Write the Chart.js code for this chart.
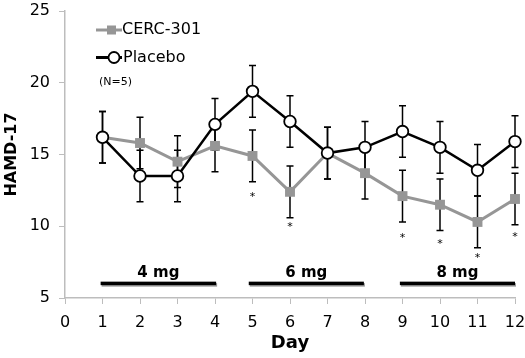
<!DOCTYPE html>
<html><head><meta charset="utf-8">
<script src="https://cdn.jsdelivr.net/npm/chart.js@4/dist/chart.umd.min.js"></script>
<style>html,body{margin:0;padding:0;background:#fff}#wrap{width:525px;height:358px}</style>
</head><body><div id="wrap"><canvas id="c" width="525" height="358"></canvas></div>
<script>
const days = [1,2,3,4,5,6,7,8,9,10,11,12];
const cerc = [16.2,15.8,14.5,15.6,14.9,12.4,15.1,13.7,12.1,11.5,10.3,11.9];
const cercErr = [1.8,1.8,1.8,1.8,1.8,1.8,1.8,1.8,1.8,1.8,1.8,1.8];
const placebo = [16.2,13.5,13.5,17.1,19.4,17.3,15.1,15.5,16.6,15.5,13.9,15.9];
const placeboErr = [1.8,1.8,1.8,1.8,1.8,1.8,1.8,1.8,1.8,1.8,1.8,1.8];
const starDays = [5,6,9,10,11,12];
const starValues = [12.15,10.1,9.3,8.9,7.95,9.35];
const doseLabels = ['4 mg','6 mg','8 mg'];
const doseStart = [0.95,4.9,8.93];
const doseEnd = [4.03,7.97,12];
const doseLevel = 6;
const yTicks = [5,10,15,20,25];
const seriesNames = ['CERC-301','Placebo'];

const GRAY = '#969696';
const AXIS = '#bdbdbd';
const FONT = '"DejaVu Sans", Verdana, sans-serif';

const overlay = {
  id: 'overlay',
  beforeDatasetsDraw(chart) {
    const ctx = chart.ctx, xs = chart.scales.x, ys = chart.scales.y;
    ctx.save();
    ctx.strokeStyle = '#000'; ctx.lineWidth = 1.5;
    const drawErr = (vals, errs) => {
      vals.forEach((v, i) => {
        const x = xs.getPixelForValue(days[i]);
        const t = ys.getPixelForValue(v + errs[i]), b = ys.getPixelForValue(v - errs[i]);
        ctx.beginPath();
        ctx.moveTo(x, t); ctx.lineTo(x, b);
        ctx.moveTo(x - 3.5, t); ctx.lineTo(x + 3.5, t);
        ctx.moveTo(x - 3.5, b); ctx.lineTo(x + 3.5, b);
        ctx.stroke();
      });
    };
    drawErr(cerc, cercErr);
    drawErr(placebo, placeboErr);
    // dose bars
    const yb = ys.getPixelForValue(doseLevel);
    doseLabels.forEach((lab, i) => {
      const x1 = xs.getPixelForValue(doseStart[i]), x2 = xs.getPixelForValue(doseEnd[i]);
      ctx.fillStyle = '#9a9a9a';
      ctx.fillRect(x1 + 1, yb - 0.5, x2 - x1, 3.5);
      ctx.fillStyle = '#000';
      ctx.fillRect(x1, yb - 2, x2 - x1, 3.5);
      ctx.font = 'bold 15px ' + FONT;
      ctx.textAlign = 'center'; ctx.textBaseline = 'alphabetic';
      ctx.fillText(lab, (x1 + x2) / 2, yb - 7);
    });
    // asterisks
    ctx.font = '11px ' + FONT; ctx.textAlign = 'center'; ctx.textBaseline = 'middle';
    starDays.forEach((d, i) => {
      ctx.fillText('*', xs.getPixelForValue(d), ys.getPixelForValue(starValues[i]) + 2);
    });
    ctx.restore();
  },
  afterDraw(chart) {
    const ctx = chart.ctx;
    ctx.save();
    // legend
    ctx.lineWidth = 3;
    ctx.strokeStyle = GRAY;
    ctx.beginPath(); ctx.moveTo(96, 30); ctx.lineTo(122, 30); ctx.stroke();
    ctx.fillStyle = GRAY; ctx.fillRect(107, 25.5, 9, 9);
    ctx.strokeStyle = '#000';
    ctx.beginPath(); ctx.moveTo(96, 57.5); ctx.lineTo(122, 57.5); ctx.stroke();
    ctx.lineWidth = 1.8;
    ctx.beginPath(); ctx.arc(114, 57.5, 5.5, 0, Math.PI * 2); ctx.fillStyle = '#fff'; ctx.fill(); ctx.stroke();
    ctx.fillStyle = '#000';
    ctx.font = '16px ' + FONT; ctx.textAlign = 'left'; ctx.textBaseline = 'middle';
    ctx.fillText(seriesNames[0], 122, 30);
    ctx.fillText(seriesNames[1], 123, 58);
    ctx.font = '11px ' + FONT;
    ctx.fillText('(N=5)', 99, 82);
    ctx.restore();
  }
};

new Chart(document.getElementById('c'), {
  type: 'line',
  data: {
    datasets: [
      {
        label: seriesNames[1],
        data: days.map((d, i) => ({x: d, y: placebo[i]})),
        borderColor: '#000', borderWidth: 2.5,
        pointStyle: 'circle', pointRadius: 5.8, pointBorderWidth: 1.8,
        pointBackgroundColor: '#fff', pointBorderColor: '#000',
        clip: false, order: 1
      },
      {
        label: seriesNames[0],
        data: days.map((d, i) => ({x: d, y: cerc[i]})),
        borderColor: GRAY, borderWidth: 3,
        pointStyle: 'rect', pointRadius: 7, pointBorderWidth: 0,
        pointBackgroundColor: GRAY, pointBorderColor: GRAY,
        clip: false, order: 2
      }
    ]
  },
  options: {
    responsive: false, animation: false,
    layout: {padding: {top: 11, right: 10, left: 0, bottom: 0}},
    plugins: {legend: {display: false}, tooltip: {enabled: false}},
    scales: {
      x: {
        type: 'linear', min: 0, max: 12,
        grid: {display: true, drawOnChartArea: false, drawTicks: true, tickLength: 6, color: AXIS},
        border: {color: AXIS, width: 1.5},
        ticks: {stepSize: 1, color: '#000', font: {family: FONT, size: 16}, padding: 9, maxRotation: 0},
        title: {display: true, text: 'Day', color: '#000', font: {family: FONT, size: 18, weight: 'bold'}, padding: {top: 4}},
        afterFit(s) { s.height = 60; s.paddingLeft = 0; s.paddingRight = 0; }
      },
      y: {
        min: 5, max: 25,
        afterBuildTicks(s) { s.ticks = yTicks.map(v => ({value: v})); },
        grid: {display: true, drawOnChartArea: false, drawTicks: true, tickLength: 6, color: AXIS},
        border: {color: AXIS, width: 1.5},
        ticks: {color: '#000', font: {family: FONT, size: 16}, padding: 9},
        title: {display: true, text: 'HAMD-17', color: '#000', font: {family: FONT, size: 16, weight: 'bold'}, padding: {top: 2, bottom: 0}},
        afterFit(s) { s.width = 65; s.paddingTop = 0; s.paddingBottom = 0; }
      }
    }
  },
  plugins: [overlay]
});
</script></body></html>
